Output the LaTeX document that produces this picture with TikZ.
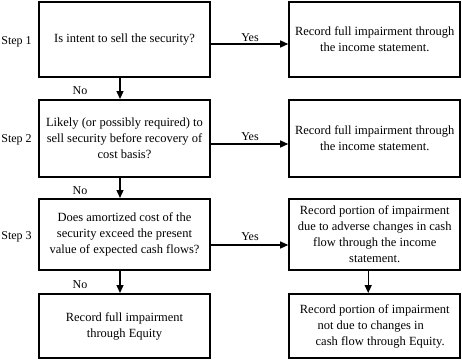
\documentclass[tikz,border=0pt]{standalone}
\usepackage{fontspec}
\setmainfont{Liberation Serif}
\usetikzlibrary{arrows.meta}
\begin{document}
\begin{tikzpicture}[x=1pt,y=-1pt,
  box/.style={draw,line width=2pt,minimum width=#1,inner sep=0pt,align=center,font=\fontsize{12.5}{16}\selectfont},
  box/.default={171pt},
  arr/.style={line width=1.3pt,-{Triangle[length=8pt,width=7pt]}},
  lbl/.style={font=\fontsize{12}{14}\selectfont,inner sep=0pt}]
\useasboundingbox (0,0) rectangle (462,359);
% left column
\node[box,minimum height=75pt] (l1) at (124.5,39.5) {Is intent to sell the security?};
\node[box,minimum height=76.5pt] (l2) at (124.5,138.3) {Likely (or possibly required) to\\sell security before recovery of\\cost basis?};
\node[box,minimum height=71pt] (l3) at (124.5,234.5) {Does amortized cost of the\\security exceed the present\\value of expected cash flows?};
\node[box,minimum height=64pt] (l4) at (124.5,326) {Record full impairment\\through Equity};
% right column
\node[box,minimum height=75pt] (r1) at (374.7,39.5) {Record full impairment through\\the income statement.};
\node[box,minimum height=77pt] (r2) at (374.7,138.3) {Record full impairment through\\the income statement.};
\node[box,minimum height=71pt] (r3) at (374.7,234.5) {Record portion of impairment\\due to adverse changes in cash\\flow through the income\\statement.};
\node[box,minimum height=64pt] (r4) at (374.7,326) {Record portion of impairment\\\hspace*{-8pt}not due to changes in\\\hspace*{11pt}cash flow through Equity.};
% step labels
\node[lbl] (s1) at (16.5,42) {Step 1};
\node[lbl] (s2) at (16.5,140) {Step 2};
\node[lbl] (s3) at (16.5,237) {Step 3};
% vertical arrows
\draw[arr] ([xshift=-4.5pt]l1.south) -- ([xshift=-4.5pt]l2.north);
\draw[arr] ([xshift=-4.5pt]l2.south) -- ([xshift=-4.5pt]l3.north);
\draw[arr] ([xshift=-4.5pt]l3.south) -- ([xshift=-4.5pt]l4.north);
\draw[arr] ([xshift=-6.5pt]r3.south) -- ([xshift=-6.5pt]r4.north);
% horizontal arrows
\draw[arr] (l1.east |- 0,44) -- (r1.west |- 0,44);
\draw[arr] (l2.east |- 0,144) -- (r2.west |- 0,144);
\draw[arr] (l3.east |- 0,245) -- (r3.west |- 0,245);
% labels
\node[lbl] (y1) at (250,38) {Yes};
\node[lbl] (y2) at (250,136.5) {Yes};
\node[lbl] (y3) at (250,237) {Yes};
\node[lbl] (n1) at (80,90.5) {No};
\node[lbl] (n2) at (80,190.5) {No};
\node[lbl] (n3) at (80,284.5) {No};
\end{tikzpicture}
\end{document}
